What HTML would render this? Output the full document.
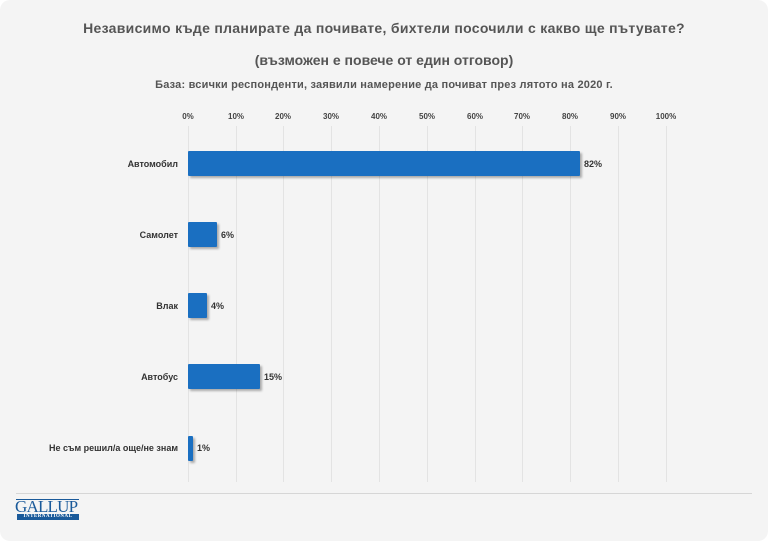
<!DOCTYPE html>
<html><head><meta charset="utf-8"><style>
html,body{margin:0;padding:0;background:#fff;}
#c{position:relative;width:768px;height:541px;background:#f4f4f4;border-radius:10px;overflow:hidden;font-family:"Liberation Sans",sans-serif;color:#444;}
.t{position:absolute;left:0;width:768px;text-align:center;font-weight:bold;color:#555;}
.tick{position:absolute;top:112px;font-size:8px;font-weight:bold;color:#444;transform:translateX(-50%);}
.g{position:absolute;top:126px;height:356px;width:1px;background:#e3e3e3;}
.lab{position:absolute;right:590px;font-size:9px;font-weight:bold;color:#333;transform:translateY(-50%);white-space:nowrap;}
.bar{position:absolute;left:188px;height:25px;background:#1a6fc1;border-radius:1px;box-shadow:2px 2px 2px rgba(0,0,0,0.3);}
.v{position:absolute;font-size:9px;font-weight:bold;color:#333;transform:translateY(-50%);}
</style></head><body><div id="c">
<div class="t" style="top:20px;font-size:14px;letter-spacing:0.3px">Независимо къде планирате да почивате, бихтели посочили с какво ще пътувате?</div>
<div class="t" style="top:52px;font-size:14px;">(възможен е повече от един отговор)</div>
<div class="t" style="top:79px;font-size:11px;letter-spacing:0.2px">База: всички респонденти, заявили намерение да почиват през лятото на 2020 г.</div>
<div class="tick" style="left:188px">0%</div><div class="tick" style="left:236px">10%</div><div class="tick" style="left:283px">20%</div><div class="tick" style="left:331px">30%</div><div class="tick" style="left:379px">40%</div><div class="tick" style="left:427px">50%</div><div class="tick" style="left:475px">60%</div><div class="tick" style="left:522px">70%</div><div class="tick" style="left:570px">80%</div><div class="tick" style="left:618px">90%</div><div class="tick" style="left:666px">100%</div>
<div class="g" style="left:188px"></div><div class="g" style="left:236px"></div><div class="g" style="left:283px"></div><div class="g" style="left:331px"></div><div class="g" style="left:379px"></div><div class="g" style="left:427px"></div><div class="g" style="left:475px"></div><div class="g" style="left:522px"></div><div class="g" style="left:570px"></div><div class="g" style="left:618px"></div><div class="g" style="left:666px"></div>
<div class="lab" style="top:164px">Автомобил</div><div class="bar" style="top:151px;width:392px"></div><div class="v" style="top:164px;left:584px">82%</div>
<div class="lab" style="top:235px">Самолет</div><div class="bar" style="top:222px;width:29px"></div><div class="v" style="top:235px;left:221px">6%</div>
<div class="lab" style="top:306px">Влак</div><div class="bar" style="top:293px;width:19px"></div><div class="v" style="top:306px;left:211px">4%</div>
<div class="lab" style="top:377px">Автобус</div><div class="bar" style="top:364px;width:72px"></div><div class="v" style="top:377px;left:264px">15%</div>
<div class="lab" style="top:448px">Не съм решил/а още/не знам</div><div class="bar" style="top:436px;width:5px"></div><div class="v" style="top:448px;left:197px">1%</div>
<div style="position:absolute;left:16px;top:493px;width:736px;height:1px;background:#d6d6d6"></div>
<div style="position:absolute;left:16px;top:499px;width:63px;height:1px;background:#1a5a9a"></div>
<div style="position:absolute;left:15px;top:500px;font-family:'Liberation Serif',serif;font-size:17px;color:#1a5a9a;letter-spacing:-0.8px;line-height:14px">GALLUP</div>
<div style="position:absolute;left:17px;top:514px;width:62px;height:6px;background:#1a5a9a;color:#fff;font-size:5px;line-height:6px;text-align:center;font-family:'Liberation Serif',serif;font-weight:bold;letter-spacing:0.5px">INTERNATIONAL</div>
</div></body></html>
